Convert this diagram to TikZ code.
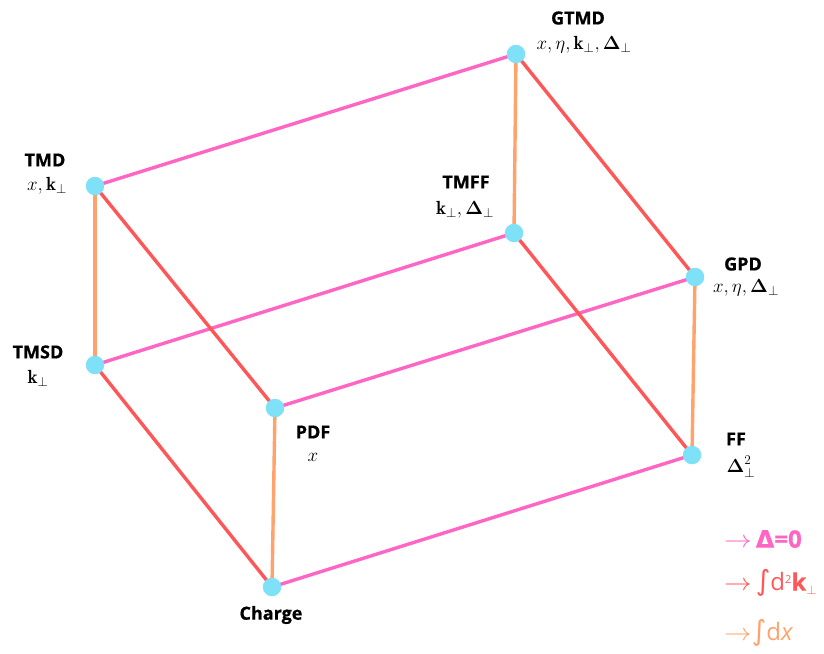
\RequirePackage{fix-cm}
\documentclass[tikz,border=0pt]{standalone}
\usepackage{amsmath,bm,graphicx}
\usepackage{fontspec}
\newfontfamily\labfont{Open Sans}[BoldFeatures={FakeBold=0.7}]
\newfontfamily\symfont{DejaVu Sans}[BoldFeatures={FakeBold=0.7}]
\definecolor{pinkl}{HTML}{FF66C4}
\definecolor{redl}{HTML}{FF5757}
\definecolor{orangel}{HTML}{FFA26B}
\definecolor{dotc}{HTML}{7FE1F7}
\newcommand{\legarrow}{\scalebox{1.15}[1]{$\rightarrow$}}
\begin{document}
\begin{tikzpicture}[x=1pt,y=-1pt,
  dot/.style={circle,fill=dotc,inner sep=0pt,minimum size=18.5pt},
  title/.style={font=\labfont\bfseries\fontsize{18}{20}\selectfont,inner sep=0pt},
  vars/.style={font=\fontsize{19}{22}\selectfont,inner sep=0pt},
  deltaline/.style={draw=pinkl,line width=3.4pt},
  kline/.style={draw=redl,line width=3.4pt},
  xline/.style={draw=orangel,line width=3.4pt},
  legend/.style={font=\labfont\fontsize{24}{26}\selectfont,anchor=west,inner sep=0pt}]
\useasboundingbox (0,0) rectangle (824,653);

% corner points of the cube
\coordinate (gtmd) at (516,54);
\coordinate (tmd) at (95,186);
\coordinate (tmff) at (514,233);
\coordinate (gpd) at (695,277);
\coordinate (tmsd) at (95,365);
\coordinate (pdf) at (275,408);
\coordinate (ff) at (692,455);
\coordinate (charge) at (272,587);

% Delta = 0 edges
\draw[deltaline] (tmd) -- (gtmd);
\draw[deltaline] (tmsd) -- (tmff);
\draw[deltaline] (pdf) -- (gpd);
\draw[deltaline] (charge) -- (ff);
% integral over k edges
\draw[kline] (gtmd) -- (gpd);
\draw[kline] (tmd) -- (pdf);
\draw[kline] (tmff) -- (ff);
\draw[kline] (tmsd) -- (charge);
% integral over x edges
\draw[xline] (gtmd) -- (tmff);
\draw[xline] (tmd) -- (tmsd);
\draw[xline] (gpd) -- (ff);
\draw[xline] (pdf) -- (charge);

% dots
\foreach \p in {gtmd,tmd,tmff,gpd,tmsd,pdf,ff,charge}
  \node[dot] (\p-dot) at (\p) {};

% labels
\node[title] (gtmd-t) at (578,18) {GTMD};
\node[vars] (gtmd-v) at (584,45) {$x,\eta,\mathbf{k}_\perp,\bm{\Delta}_\perp$};
\node[title] (tmd-t) at (45,160) {TMD};
\node[vars] (tmd-v) at (47,186) {$x,\mathbf{k}_\perp$};
\node[title] (tmff-t) at (466,182) {TMFF};
\node[vars] (tmff-v) at (465,210) {$\mathbf{k}_\perp,\bm{\Delta}_\perp$};
\node[title] (gpd-t) at (743,264) {GPD};
\node[vars] (gpd-v) at (746,288) {$x,\eta,\bm{\Delta}_\perp$};
\node[title] (tmsd-t) at (38,352) {TMSD};
\node[vars] (tmsd-v) at (38,378) {$\mathbf{k}_\perp$};
\node[title] (pdf-t) at (313,432) {PDF};
\node[vars] (pdf-v) at (313,457) {$x$};
\node[title] (ff-t) at (736,439) {FF};
\node[vars] (ff-v) at (741,467) {$\bm{\Delta}_\perp^2$};
\node[title] (charge-t) at (271,615) {Charge};

% legend
\node[legend,text=pinkl] (leg1) at (724,539) {\legarrow\,\textbf{\symfont Δ\labfont=0}};
\node[legend,text=redl] (leg2) at (724,583) {\legarrow\,{\symfont\fontsize{28}{28}\selectfont ∫}d\raisebox{7pt}{\fontsize{11}{11}\selectfont 2}\textbf{k}\raisebox{-4pt}{\fontsize{13}{13}\selectfont$\perp$}};
\node[legend,text=orangel] (leg3) at (724,633) {\legarrow{\symfont\fontsize{28}{28}\selectfont ∫}d\textit{x}};
\end{tikzpicture}
\end{document}
